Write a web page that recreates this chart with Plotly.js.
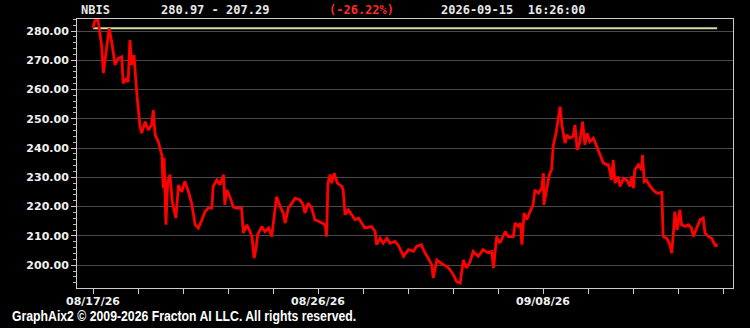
<!DOCTYPE html>
<html>
<head>
<meta charset="utf-8">
<script src="https://cdn.plot.ly/plotly-3.0.1.min.js"></script>
<style>
html,body{margin:0;padding:0;background:#000;}
#wrap{position:relative;width:750px;height:328px;}
#chart{width:750px;height:328px;}
#footer{position:absolute;left:12px;top:308px;height:15px;line-height:15px;
  font-family:'Liberation Sans',Arial,sans-serif;font-weight:bold;font-size:15px;color:#fff;
  white-space:nowrap;transform-origin:left center;transform:scaleX(0.816);}
</style>
</head>
<body>
<div id="wrap">
<div id="chart"></div>
<div id="footer"></div>
</div>
<script>
// ---- data ----
const symbol = "NBIS";
const openPrice = 280.97;
const lastPrice = 207.29;
const changeText = "(-26.22%)";
const stampText = "2026-09-15  16:26:00";
const footerText = "GraphAix2 \u00A9 2009-2026 Fracton AI LLC. All rights reserved.";

const tickPos = [0, 5, 10];
const tickLabels = ["08/17/26", "08/26/26", "09/08/26"];

const t = [0.00,0.04,0.11,0.19,0.23,0.30,0.36,0.42,0.49,0.56,0.64,0.67,0.75,0.78,0.82,0.86,0.91,0.97,1.04,1.08,
1.16,1.23,1.30,1.34,1.38,1.45,1.49,1.53,1.56,1.58,1.62,1.66,1.71,1.76,1.84,1.90,1.97,2.04,2.12,2.19,
2.27,2.34,2.42,2.49,2.56,2.64,2.67,2.75,2.82,2.90,2.93,2.97,3.04,3.12,3.19,3.30,3.34,3.42,3.49,3.53,
3.58,3.62,3.66,3.71,3.75,3.82,3.90,3.97,4.01,4.08,4.16,4.23,4.27,4.34,4.42,4.49,4.60,4.67,4.71,4.78,
4.86,4.93,5.01,5.08,5.16,5.19,5.22,5.27,5.30,5.36,5.43,5.53,5.56,5.60,5.67,5.75,5.82,5.90,5.97,6.04,
6.19,6.27,6.30,6.38,6.45,6.53,6.60,6.71,6.78,6.90,7.01,7.12,7.19,7.30,7.34,7.42,7.53,7.56,7.64,7.75,
7.86,7.93,8.01,8.08,8.16,8.23,8.30,8.38,8.45,8.56,8.67,8.78,8.86,8.90,8.97,9.04,9.16,9.23,9.34,9.38,
9.45,9.50,9.53,9.58,9.64,9.71,9.78,9.82,9.90,9.97,10.01,10.02,10.08,10.14,10.19,10.23,10.29,10.34,10.38,10.42,
10.49,10.53,10.60,10.67,10.71,10.76,10.82,10.88,10.93,10.98,11.04,11.12,11.19,11.27,11.34,11.42,11.45,11.49,11.52,11.56,
11.60,11.67,11.71,11.79,11.86,11.93,11.97,12.01,12.04,12.12,12.19,12.21,12.25,12.30,12.38,12.45,12.53,12.60,12.64,12.67,
12.75,12.82,12.86,12.90,12.93,12.98,13.04,13.08,13.16,13.23,13.30,13.34,13.41,13.49,13.56,13.60,13.67,13.75,13.78,13.84,13.87];

const price = [281.0,283.5,283.8,275.2,265.6,274.6,280.9,275.8,268.4,270.7,271.2,262.2,263.9,262.5,276.9,268.4,271.8,259.3,247.9,245.1,
249.0,246.2,247.9,253.0,244.5,242.2,240.0,237.5,226.3,236.6,213.8,228.6,230.9,221.7,216.1,227.4,225.0,228.6,225.2,221.2,
213.8,212.7,215.5,218.3,219.5,219.5,226.9,229.1,227.5,230.9,220.6,225.7,223.4,219.8,219.5,219.5,211.0,213.8,211.5,209.8,
202.4,205.5,210.4,211.8,213.2,211.5,212.7,209.8,215.5,223.4,220.0,217.8,214.4,219.5,221.2,222.9,222.3,220.6,217.8,221.2,
219.5,215.5,215.0,214.4,213.8,209.8,228.0,230.9,228.0,231.4,228.0,226.9,225.7,217.2,218.9,217.2,215.5,216.1,214.4,212.7,
213.2,211.5,207.0,209.2,207.5,209.2,207.5,208.1,206.9,203.0,205.3,204.7,206.4,207.0,205.3,203.0,200.1,195.6,201.8,200.5,
199.6,198.5,196.7,194.4,193.9,201.8,199.0,201.3,204.7,203.0,205.3,204.2,204.7,199.0,209.8,207.5,211.5,209.8,209.8,214.4,
213.3,214.4,207.0,217.8,215.5,218.3,220.6,225.7,224.6,226.3,231.4,220.6,226.3,230.9,232.6,241.1,245.1,250.2,254.2,247.9,
241.7,244.5,243.4,244.0,247.9,239.4,242.2,249.0,241.1,245.1,242.2,243.4,240.5,237.1,234.9,234.3,234.3,232.0,229.1,236.0,
228.0,230.3,226.9,229.7,229.1,226.9,230.3,226.3,232.6,234.3,232.6,237.7,228.6,229.1,226.9,225.7,224.6,224.6,225.2,209.8,
209.2,207.0,204.1,211.5,218.3,212.0,218.9,213.8,213.2,213.8,212.7,209.8,212.7,215.5,216.1,211.0,209.8,209.2,208.1,206.4,207.3];

// ---- chart ----
const W = 750, H = 328;
const L = 77, R = 17, T = 19, B = 40;
const pw = W - L - R, ph = H - T - B;
const px = v => (v - L) / pw;          // pixel x -> paper x
const py = v => (H - B - v) / ph;      // pixel y -> paper y

const traces = [
  {
    x: [t[0], t[t.length - 1]],
    y: [openPrice, openPrice],
    type: 'scatter', mode: 'lines',
    line: {color: '#d6dc9c', width: 2},
    hoverinfo: 'skip'
  },
  {
    x: t, y: price,
    type: 'scatter', mode: 'lines',
    line: {color: '#ff0000', width: 2.8}
  }
];

const monoFont = {family: 'DejaVu Sans Mono', size: 12, color: '#e8e8e8', weight: 'bold'};
const annTitle = (txt, xpix, color) => ({
  text: txt, xref: 'paper', yref: 'paper', x: px(xpix), y: py(10),
  xanchor: 'left', yanchor: 'middle', showarrow: false,
  font: Object.assign({}, monoFont, color ? {color: color} : {})
});

const layout = {
  width: W, height: H,
  margin: {l: L, r: R, t: T, b: B, pad: 0},
  paper_bgcolor: '#000', plot_bgcolor: '#000',
  showlegend: false,
  xaxis: {
    range: [-0.356, 14.222],
    tickmode: 'array', tickvals: tickPos, ticktext: tickLabels,
    ticks: 'outside', ticklen: 5, tickcolor: '#cccccc', tickwidth: 1,
    ticklabelstandoff: -2,
    minor: {tickmode: 'linear', tick0: 0, dtick: 1, ticks: 'outside', ticklen: 5, tickcolor: '#cccccc', showgrid: false},
    showgrid: false, zeroline: false,
    showline: true, linecolor: '#cccccc', linewidth: 1, mirror: true,
    tickfont: {family: 'DejaVu Sans', size: 11, color: '#f0f0f0', weight: 'bold'}
  },
  yaxis: {
    range: [192.2, 284.1],
    tickmode: 'linear', tick0: 200, dtick: 10, tickformat: '.2f',
    ticks: 'outside', ticklen: 5, tickcolor: '#cccccc', tickwidth: 1,
    minor: {tickmode: 'linear', tick0: 200, dtick: 2, ticks: 'outside', ticklen: 3, tickcolor: '#bbbbbb', showgrid: false},
    showgrid: true, gridcolor: '#4a4a4a', gridwidth: 1, zeroline: false,
    showline: true, linecolor: '#cccccc', linewidth: 1, mirror: true,
    tickfont: {family: 'DejaVu Sans', size: 11, color: '#f0f0f0', weight: 'bold'}
  },
  annotations: [
    annTitle(symbol, 79),
    annTitle(openPrice.toFixed(2) + ' - ' + lastPrice.toFixed(2), 159),
    annTitle(changeText, 327, '#ff2a2a'),
    annTitle(stampText, 439)
  ]
};

document.getElementById('footer').textContent = footerText;
Plotly.newPlot('chart', traces, layout, {displayModeBar: false, staticPlot: true});
</script>
</body>
</html>
